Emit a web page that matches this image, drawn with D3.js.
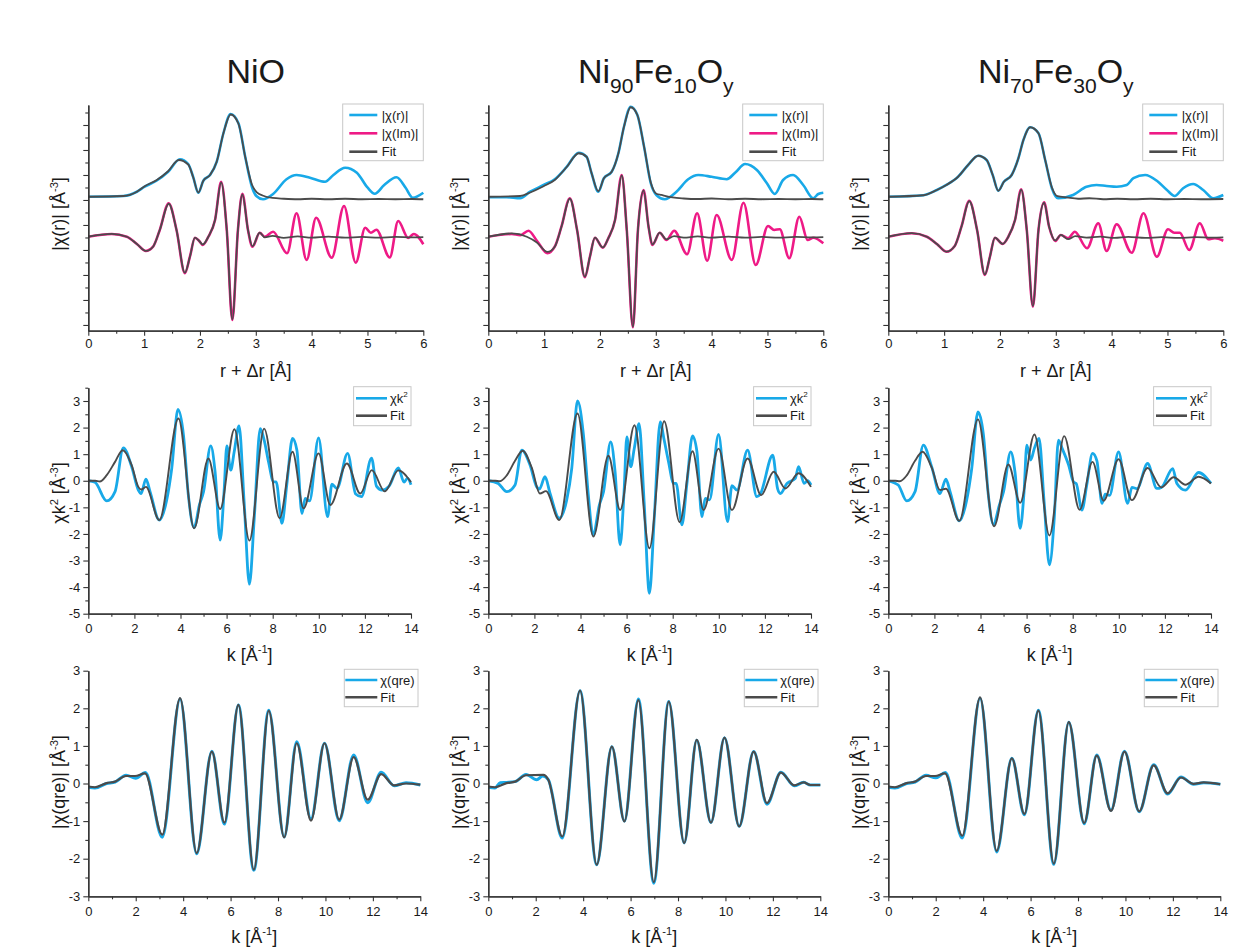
<!DOCTYPE html>
<html>
<head>
<meta charset="utf-8">
<script src="https://cdn.jsdelivr.net/npm/d3@7"></script>
<style>
body { margin: 0; background: #fff; }
text { font-family: "Liberation Sans", Arial, sans-serif; fill: #1a1a1a; }
</style>
</head>
<body>
<div id="plot"></div>
<script>

// ---- tick values ----
var rTicks = [0, 1, 2, 3, 4, 5, 6];
var kTicks = [0, 2, 4, 6, 8, 10, 12, 14];
var chiRTicks = [0, 1, 2, 3, 4, 5, 6, 7, 8];      // unlabeled, offset units
var chiK2Ticks = [-5, -4, -3, -2, -1, 0, 1, 2, 3];
var qreTicks = [-3, -2, -1, 0, 1, 2, 3];

// ---- row 1 : |chi(r)| (upper) and Im (lower), offset units ----
var nioR = [[0,5.13],[0.63,5.16],[0.87,5.33],[1.01,5.53],[1.22,5.77],[1.43,6.13],[1.64,6.63],[1.79,6.44],[1.88,5.91],[1.97,5.29],[2.06,5.77],[2.18,6.0],[2.30,6.53],[2.42,7.67],[2.55,8.44],[2.69,8.07],[2.81,6.73],[2.93,5.53],[3.01,5.16],[3.13,5.03],[3.31,5.24],[3.55,5.83],[3.73,6.0],[3.97,5.89],[4.24,5.73],[4.39,6.0],[4.60,6.29],[4.81,6.09],[5.0,5.5],[5.13,5.25],[5.3,5.6],[5.52,5.91],[5.68,5.5],[5.81,5.09],[6.0,5.29]];
var nioFitR = [[0,5.13],[0.63,5.16],[0.87,5.33],[1.01,5.55],[1.22,5.79],[1.43,6.15],[1.62,6.6],[1.79,6.42],[1.88,5.9],[1.97,5.3],[2.06,5.77],[2.18,6.0],[2.30,6.53],[2.42,7.67],[2.55,8.42],[2.69,8.05],[2.81,6.73],[2.93,5.62],[3.02,5.3],[3.12,5.18],[3.3,5.08],[3.5,5.05],[3.75,5.03],[4.0,5.05],[4.3,5.03],[4.6,5.05],[4.9,5.03],[5.2,5.04],[5.5,5.03],[5.8,5.04],[6.0,5.03]];
var nioIm = [[0,3.53],[0.42,3.64],[0.69,3.53],[0.87,3.24],[1.03,2.96],[1.16,3.13],[1.28,3.8],[1.44,4.87],[1.58,3.8],[1.73,2.07],[1.82,2.73],[1.91,3.49],[1.99,3.35],[2.05,3.2],[2.15,3.53],[2.27,4.2],[2.38,5.73],[2.48,3.8],[2.58,0.2],[2.68,3.8],[2.76,5.25],[2.86,3.8],[2.94,3.13],[3.07,3.69],[3.16,3.53],[3.31,3.73],[3.56,2.87],[3.73,4.47],[3.91,2.6],[4.08,4.29],[4.36,2.69],[4.58,4.76],[4.79,2.49],[4.96,3.89],[5.06,3.69],[5.16,3.81],[5.4,2.7],[5.55,4.16],[5.73,3.48],[5.83,3.64],[6.0,3.23]];
var nioFitIm = [[0,3.53],[0.42,3.64],[0.69,3.53],[0.87,3.24],[1.03,2.96],[1.16,3.13],[1.28,3.8],[1.44,4.85],[1.58,3.8],[1.73,2.09],[1.82,2.73],[1.91,3.49],[1.99,3.35],[2.05,3.22],[2.15,3.53],[2.27,4.2],[2.38,5.7],[2.48,3.8],[2.58,0.22],[2.68,3.8],[2.76,5.22],[2.86,3.8],[2.94,3.15],[3.07,3.69],[3.16,3.5],[3.3,3.56],[3.5,3.48],[3.75,3.54],[4.0,3.49],[4.3,3.53],[4.6,3.49],[4.9,3.52],[5.2,3.49],[5.5,3.52],[5.8,3.5],[6.0,3.51]];

var ni90R = [[0,5.11],[0.33,5.11],[0.57,5.07],[0.75,5.33],[0.99,5.6],[1.19,5.83],[1.40,6.31],[1.62,6.89],[1.76,6.73],[1.85,6.07],[1.97,5.33],[2.07,5.87],[2.21,6.13],[2.33,6.87],[2.43,7.93],[2.55,8.73],[2.67,8.4],[2.79,7.13],[2.91,5.67],[3.01,5.2],[3.16,5.03],[3.37,5.33],[3.58,5.83],[3.76,6.0],[4.0,5.93],[4.27,5.83],[4.42,6.09],[4.6,6.44],[4.81,6.2],[4.99,5.67],[5.13,5.24],[5.28,5.8],[5.46,6.0],[5.64,5.6],[5.82,5.07],[5.91,5.24],[6.0,5.29]];
var ni90FitR = [[0,5.13],[0.57,5.16],[0.75,5.3],[0.99,5.55],[1.19,5.8],[1.40,6.31],[1.62,6.87],[1.76,6.73],[1.85,6.07],[1.97,5.35],[2.07,5.87],[2.21,6.13],[2.33,6.87],[2.43,7.93],[2.55,8.71],[2.67,8.4],[2.79,7.13],[2.91,5.7],[3.01,5.25],[3.1,5.2],[3.3,5.1],[3.5,5.06],[3.75,5.04],[4.0,5.06],[4.3,5.03],[4.6,5.05],[4.9,5.03],[5.2,5.04],[5.5,5.03],[5.8,5.04],[6.0,5.03]];
var ni90Im = [[0,3.53],[0.42,3.64],[0.57,3.59],[0.72,3.77],[0.87,3.37],[1.06,2.87],[1.19,3.13],[1.31,3.93],[1.46,5.07],[1.59,3.8],[1.73,1.91],[1.82,2.73],[1.91,3.49],[2.05,3.09],[2.15,3.47],[2.27,4.2],[2.39,6.0],[2.48,3.8],[2.59,-0.09],[2.68,3.8],[2.78,5.4],[2.87,3.93],[2.94,3.2],[3.07,3.69],[3.19,3.4],[3.33,3.77],[3.56,2.83],[3.74,4.47],[3.92,2.57],[4.09,4.4],[4.36,2.6],[4.57,4.89],[4.79,2.4],[5.01,3.96],[5.12,3.8],[5.22,3.83],[5.39,2.67],[5.57,4.33],[5.72,3.4],[5.82,3.49],[6.0,3.27]];
var ni90FitIm = [[0,3.53],[0.42,3.66],[0.69,3.53],[0.87,3.3],[1.06,2.92],[1.19,3.13],[1.31,3.93],[1.46,5.05],[1.59,3.8],[1.73,1.93],[1.82,2.73],[1.91,3.49],[2.05,3.1],[2.15,3.47],[2.27,4.2],[2.39,5.98],[2.48,3.8],[2.59,-0.07],[2.68,3.8],[2.78,5.38],[2.87,3.93],[2.94,3.22],[3.07,3.69],[3.19,3.42],[3.33,3.55],[3.5,3.49],[3.75,3.54],[4.0,3.49],[4.3,3.53],[4.6,3.49],[4.9,3.52],[5.2,3.49],[5.5,3.52],[5.8,3.5],[6.0,3.51]];

var ni70R = [[0,5.13],[0.63,5.19],[0.87,5.4],[1.04,5.6],[1.25,5.93],[1.43,6.4],[1.61,6.77],[1.76,6.6],[1.87,6.0],[1.97,5.37],[2.07,5.73],[2.21,6.0],[2.33,6.67],[2.42,7.4],[2.54,7.91],[2.69,7.67],[2.81,6.6],[2.93,5.47],[3.04,5.07],[3.31,5.2],[3.55,5.53],[3.73,5.6],[3.91,5.56],[4.09,5.53],[4.27,5.6],[4.39,5.87],[4.6,6.0],[4.81,5.77],[4.99,5.4],[5.13,5.16],[5.28,5.47],[5.46,5.64],[5.64,5.4],[5.82,5.07],[6.0,5.2]];
var ni70FitR = [[0,5.13],[0.63,5.19],[0.87,5.4],[1.04,5.6],[1.25,5.93],[1.43,6.4],[1.61,6.77],[1.76,6.6],[1.87,6.0],[1.97,5.37],[2.07,5.73],[2.21,6.0],[2.33,6.67],[2.42,7.4],[2.54,7.91],[2.69,7.67],[2.81,6.6],[2.93,5.5],[3.03,5.15],[3.2,5.1],[3.4,5.05],[3.6,5.07],[3.85,5.03],[4.1,5.05],[4.4,5.03],[4.7,5.05],[5.0,5.03],[5.3,5.04],[5.6,5.03],[6.0,5.04]];
var ni70Im = [[0,3.53],[0.42,3.67],[0.69,3.53],[0.87,3.24],[1.04,2.93],[1.19,3.16],[1.31,3.93],[1.45,4.97],[1.59,3.8],[1.73,2.0],[1.82,2.73],[1.91,3.49],[2.05,3.24],[2.15,3.53],[2.27,4.2],[2.38,5.43],[2.48,3.8],[2.59,0.73],[2.69,3.8],[2.79,4.91],[2.88,3.93],[2.99,3.36],[3.09,3.6],[3.22,3.47],[3.34,3.73],[3.56,3.07],[3.76,4.07],[3.91,2.96],[4.09,4.03],[4.36,2.89],[4.57,4.47],[4.81,2.73],[5.01,3.83],[5.12,3.69],[5.22,3.69],[5.39,3.0],[5.58,4.07],[5.73,3.43],[5.85,3.47],[6.0,3.37]];
var ni70FitIm = [[0,3.53],[0.42,3.67],[0.69,3.53],[0.87,3.24],[1.04,2.93],[1.19,3.16],[1.31,3.93],[1.45,4.95],[1.59,3.8],[1.73,2.02],[1.82,2.73],[1.91,3.49],[2.05,3.24],[2.15,3.53],[2.27,4.2],[2.38,5.41],[2.48,3.8],[2.59,0.75],[2.69,3.8],[2.79,4.89],[2.88,3.93],[2.99,3.38],[3.09,3.6],[3.22,3.43],[3.35,3.55],[3.55,3.49],[3.8,3.53],[4.05,3.48],[4.3,3.52],[4.6,3.48],[4.9,3.51],[5.2,3.48],[5.5,3.51],[5.8,3.49],[6.0,3.5]];

// ---- row 2 : chi k^2 ----
var nioK = [[0,0],[0.29,-0.06],[0.8,-0.76],[1.16,-0.41],[1.52,1.24],[1.88,0.53],[2.17,-0.35],[2.29,-0.48],[2.5,0.06],[2.68,-0.41],[3.08,-1.48],[3.4,-0.73],[3.62,0.46],[3.89,2.68],[4.13,1.71],[4.34,-0.54],[4.59,-1.76],[4.82,-0.91],[5.0,-0.41],[5.31,1.31],[5.5,0.34],[5.72,-2.23],[5.89,-0.41],[6.01,1.31],[6.18,0.4],[6.33,1.09],[6.54,2.06],[6.76,-0.79],[6.99,-3.89],[7.2,-1.41],[7.46,1.96],[7.63,1.53],[7.82,0.71],[8.04,-0.04],[8.15,-0.04],[8.4,-1.6],[8.61,-0.16],[8.86,1.59],[9.05,1.15],[9.27,-1.23],[9.41,-0.66],[9.6,-0.76],[9.99,1.61],[10.38,-1.35],[10.57,-0.13],[10.79,-0.29],[11.25,1.03],[11.6,-0.5],[11.85,-0.6],[12.29,0.85],[12.5,-0.2],[12.75,-0.35],[13.05,-0.2],[13.45,0.48],[13.7,-0.05],[13.85,0.1],[14.0,-0.15]];
var nioKFit = [[0,0],[0.3,0],[0.5,-0.03],[0.8,0.21],[1.16,0.71],[1.49,1.15],[1.88,0.59],[2.17,-0.23],[2.3,-0.33],[2.5,-0.23],[3.08,-1.48],[3.91,2.34],[4.59,-1.79],[5.21,0.84],[5.72,-1.06],[6.34,1.94],[6.99,-2.25],[7.63,1.96],[8.3,-1.41],[8.86,1.09],[9.34,-1.04],[9.99,1.03],[10.5,-0.91],[11.22,0.65],[11.8,-0.48],[12.3,0.4],[12.86,-0.4],[13.45,0.39],[14.0,-0.05]];
var ni90K = [[0,0],[0.43,-0.1],[0.8,-0.41],[1.16,-0.16],[1.45,1.15],[1.81,0.59],[2.1,-0.23],[2.22,-0.31],[2.46,0.15],[2.68,-0.48],[3.08,-1.41],[3.4,-0.73],[3.62,0.46],[3.87,3.0],[4.13,1.71],[4.34,-0.54],[4.55,-2.04],[4.82,-0.91],[5.0,-0.41],[5.31,1.46],[5.5,0.34],[5.72,-2.41],[5.89,-0.41],[6.01,1.65],[6.18,0.53],[6.33,1.2],[6.54,2.15],[6.76,-0.79],[6.99,-4.23],[7.2,-1.41],[7.46,2.21],[7.63,1.53],[7.82,0.71],[8.04,-0.1],[8.15,-0.1],[8.4,-1.66],[8.61,-0.16],[8.86,1.69],[9.05,1.1],[9.27,-1.35],[9.41,-0.66],[9.6,-0.72],[9.99,1.74],[10.38,-1.54],[10.57,-0.18],[10.79,-0.35],[11.25,1.15],[11.65,-0.6],[11.8,-0.5],[12.34,0.96],[12.55,-0.3],[12.67,-0.48],[12.96,-0.1],[13.32,0.09],[13.46,0.53],[13.7,-0.1],[13.85,0.0],[14.0,-0.16]];
var ni90KFit = [[0,0],[0.3,0],[0.5,-0.02],[0.8,0.2],[1.16,0.75],[1.49,1.13],[1.88,0.5],[2.24,-0.48],[2.5,-0.39],[3.08,-1.48],[3.87,2.53],[4.56,-2.1],[5.21,0.94],[5.72,-1.1],[6.34,2.09],[6.99,-2.54],[7.63,2.24],[8.3,-1.56],[8.86,1.11],[9.34,-1.1],[9.99,1.21],[10.57,-1.1],[11.25,0.84],[11.84,-0.54],[12.38,0.34],[12.89,-0.29],[13.46,0.28],[14.0,-0.23]];
var ni70K = [[0,0],[0.43,-0.16],[0.8,-0.76],[1.16,-0.41],[1.52,1.34],[1.88,0.53],[2.24,-0.48],[2.5,0.06],[2.68,-0.41],[3.08,-1.51],[3.4,-0.73],[3.62,0.46],[3.89,2.59],[4.13,1.71],[4.34,-0.54],[4.56,-1.64],[4.82,-0.91],[5.0,-0.41],[5.31,1.09],[5.5,0.3],[5.72,-1.79],[5.89,-0.41],[6.01,1.34],[6.18,0.78],[6.33,1.2],[6.54,1.59],[6.76,-0.79],[6.99,-3.16],[7.2,-1.41],[7.38,1.53],[7.55,1.2],[7.82,0.6],[8.04,-0.05],[8.15,-0.1],[8.4,-1.1],[8.61,-0.16],[8.86,1.03],[9.05,0.75],[9.27,-0.85],[9.41,-0.5],[9.6,-0.55],[9.99,1.09],[10.38,-0.85],[10.57,-0.25],[10.79,-0.3],[11.25,0.65],[11.65,-0.29],[11.85,-0.25],[12.34,0.46],[12.52,-0.1],[12.89,-0.35],[13.46,0.31],[14.0,-0.1]];
var ni70KFit = [[0,0],[0.3,0],[0.5,-0.02],[0.8,0.2],[1.16,0.75],[1.49,1.09],[1.88,0.5],[2.24,-0.35],[2.5,-0.3],[3.08,-1.51],[3.89,2.31],[4.59,-1.71],[5.21,0.61],[5.72,-0.83],[6.34,1.74],[6.99,-2.06],[7.63,1.68],[8.3,-1.09],[8.86,0.71],[9.34,-0.75],[9.99,0.81],[10.57,-0.73],[11.25,0.48],[11.84,-0.25],[12.38,0.13],[12.89,-0.15],[13.46,0.15],[14.0,-0.1]];

// ---- row 3 : chi(qre) ----
var nioQ = [[0,-0.1],[0.28,-0.12],[0.77,0.0],[1.13,0.04],[1.59,0.22],[2.0,0.14],[2.41,0.29],[3.12,-1.43],[3.87,2.25],[4.57,-1.87],[5.21,0.86],[5.74,-1.08],[6.33,2.09],[6.98,-2.31],[7.61,1.95],[8.26,-1.42],[8.79,1.11],[9.39,-0.94],[9.96,1.07],[10.58,-0.99],[11.19,0.76],[11.78,-0.51],[12.35,0.3],[12.9,-0.06],[13.4,0.02],[14,-0.04]];
var nioQFit = [[0,-0.08],[0.28,-0.1],[0.77,0.01],[1.13,0.05],[1.59,0.2],[1.97,0.2],[2.39,0.27],[3.12,-1.36],[3.87,2.27],[4.57,-1.85],[5.21,0.85],[5.74,-1.04],[6.33,2.09],[6.98,-2.29],[7.61,1.93],[8.26,-1.43],[8.79,1.07],[9.39,-0.99],[9.96,1.07],[10.58,-0.96],[11.19,0.7],[11.78,-0.43],[12.35,0.25],[12.9,-0.05],[13.4,0.0],[14,-0.03]];
var ni90Q = [[0,-0.1],[0.28,-0.12],[0.5,0.02],[0.77,0.03],[1.13,0.05],[1.59,0.24],[2.04,0.1],[2.3,0.2],[2.53,0.1],[3.12,-1.45],[3.87,2.47],[4.57,-2.16],[5.21,0.98],[5.74,-1.0],[6.33,2.25],[6.98,-2.65],[7.61,2.18],[8.26,-1.58],[8.79,1.15],[9.39,-1.04],[9.96,1.22],[10.58,-1.14],[11.19,0.85],[11.75,-0.55],[12.34,0.3],[12.9,-0.06],[13.3,0.03],[13.58,-0.04],[14,-0.04]];
var ni90QFit = [[0,-0.08],[0.28,-0.1],[0.77,0.01],[1.13,0.05],[1.59,0.22],[2.32,0.23],[2.53,0.1],[3.12,-1.41],[3.87,2.47],[4.57,-2.16],[5.21,0.98],[5.74,-1.01],[6.33,2.22],[6.98,-2.62],[7.61,2.18],[8.26,-1.58],[8.79,1.16],[9.39,-1.04],[9.96,1.22],[10.58,-1.14],[11.19,0.85],[11.75,-0.52],[12.34,0.29],[12.9,-0.05],[13.3,0.03],[13.58,-0.04],[14,-0.04]];
var ni70Q = [[0,-0.1],[0.28,-0.12],[0.77,0.0],[1.13,0.04],[1.59,0.22],[2.0,0.15],[2.41,0.29],[3.12,-1.45],[3.87,2.27],[4.57,-1.82],[5.21,0.67],[5.74,-0.83],[6.33,1.95],[6.98,-2.15],[7.61,1.63],[8.26,-1.07],[8.79,0.76],[9.39,-0.71],[9.96,0.86],[10.58,-0.75],[11.19,0.5],[11.78,-0.28],[12.34,0.17],[12.87,-0.02],[13.3,0.02],[14,-0.02]];
var ni70QFit = [[0,-0.08],[0.28,-0.1],[0.77,0.01],[1.13,0.05],[1.59,0.2],[1.97,0.2],[2.39,0.27],[3.12,-1.39],[3.87,2.29],[4.57,-1.79],[5.21,0.67],[5.74,-0.81],[6.33,1.94],[6.98,-2.13],[7.61,1.63],[8.26,-1.05],[8.79,0.74],[9.39,-0.73],[9.96,0.85],[10.58,-0.74],[11.19,0.48],[11.78,-0.26],[12.34,0.16],[12.87,-0.01],[13.3,0.03],[14,-0.02]];

// column titles: [text, "sub"] pieces
var titles = [
	[["NiO"]],
	[["Ni"],["90","sub"],["Fe"],["10","sub"],["O"],["y","sub"]],
	[["Ni"],["70","sub"],["Fe"],["30","sub"],["O"],["y","sub"]]
];

var blue = "#18a9e8", pink = "#ee1a86", grey = "#4b4b4b";

var svg = d3.select("#plot")
	.append("svg")
	.attr("width", 1243)
	.attr("height", 947);

var colX = [88.3, 488.3, 888.3];

// rich text: pieces of [string, "sub"|"sup"]
function rich(t, parts, size) {
	var shift = 0;
	parts.forEach(function(p){
		var target = p[1] == "sub" ? 0.28 * size : (p[1] == "sup" ? -0.42 * size : 0);
		var ts = t.append("tspan").text(p[0]);
		if (p[1]) ts.style("font-size", (size * 0.62) + "px");
		if (target != shift) ts.attr("dy", target - shift);
		shift = target;
	});
}

var rows = [
	{top:105, bot:330.7, w:335, xd:[0,6], yd:[-0.23,8.8], xMaj:rTicks, xMin:d3.range(0.5,6,1),
	 yMaj:chiRTicks, yMin:d3.range(0.5,8.6,1), yLab:false, tickY:348, titleY:377,
	 xTitle:[["r + Δr [Å]"]], yTitle:[["|χ(r)| [Å"],["-3","sup"],["]"]], yTitleY:214,
	 series:[[nioR,nioIm,nioFitR,nioFitIm],[ni90R,ni90Im,ni90FitR,ni90FitIm],[ni70R,ni70Im,ni70FitR,ni70FitIm]],
	 colors:[blue,pink,grey,grey], widths:[2.6,2.6,1.8,1.8],
	 legend:{box:[-80.6,104,80.6,56.7], ys:[115,133.3,151.7], lx:[-74,-46], tx:-41.6,
		items:[[["|χ(r)|"]],[["|χ(Im)|"]],[["Fit"]]], cols:[blue,pink,grey]}},
	{top:387.7, bot:613.7, w:322.7, xd:[0,14], yd:[-5,3.5], xMaj:kTicks, xMin:d3.range(1,14,2),
	 yMaj:chiK2Ticks, yMin:d3.range(-4.5,3.6,1), yLab:true, tickY:633, titleY:661,
	 xTitle:[["k [Å"],["-1","sup"],["]"]], yTitle:[["χk"],["2","sup"],[" [Å"],["-3","sup"],["]"]], yTitleY:493,
	 series:[[nioK,nioKFit],[ni90K,ni90KFit],[ni70K,ni70KFit]],
	 colors:[blue,grey], widths:[2.8,1.9],
	 legend:{box:[-57.4,386.7,57.4,39], ys:[398.3,415.7], lx:[-55,-24], tx:-21,
		items:[[["χk"],["2","sup"]],[["Fit"]]], cols:[blue,grey]}},
	{top:670.7, bot:896.3, w:332, xd:[0,14], yd:[-3,3], xMaj:kTicks, xMin:d3.range(1,14,2),
	 yMaj:qreTicks, yMin:d3.range(-2.5,2.6,1), yLab:true, tickY:916, titleY:943,
	 xTitle:[["k [Å"],["-1","sup"],["]"]], yTitle:[["|χ(qre)| [Å"],["-3","sup"],["]"]], yTitleY:782,
	 series:[[nioQ,nioQFit],[ni90Q,ni90QFit],[ni70Q,ni70QFit]],
	 colors:[blue,grey], widths:[3,2.2],
	 legend:{box:[-76,669.3,73.7,37.4], ys:[680,697.3], lx:[-75,-43], tx:-40,
		items:[[["χ(qre)"]],[["Fit"]]], cols:[blue,grey]}}
];

// column titles
titles.forEach(function(parts, c){
	var t = svg.append("text")
		.attr("x", colX[c] + 167.5)
		.attr("y", 83)
		.attr("text-anchor", "middle")
		.style("font-size", "34px");
	rich(t, parts, 34);
});

var plain = function(d){ return String(d); };   // hyphen minus like the original

rows.forEach(function(row){
	colX.forEach(function(x0, c){
		var x = d3.scaleLinear().domain(row.xd).range([x0, x0 + row.w]);
		var y = d3.scaleLinear().domain(row.yd).range([row.bot, row.top]);
		var g = svg.append("g");

		// curves
		var line = d3.line()
			.x(function(d){ return x(d[0]); })
			.y(function(d){ return y(d[1]); })
			.curve(d3.curveMonotoneX);
		row.series[c].forEach(function(s, i){
			g.append("path")
				.attr("d", line(s))
				.attr("fill", "none")
				.attr("stroke", row.colors[i])
				.attr("stroke-width", row.widths[i])
				.attr("stroke-linejoin", "round");
		});

		// axes
		var xa = g.append("g").attr("transform", "translate(0," + row.bot + ")")
			.call(d3.axisBottom(x).tickValues(row.xMaj).tickSize(5).tickSizeOuter(0).tickPadding(3).tickFormat(plain));
		g.append("g").attr("transform", "translate(0," + row.bot + ")")
			.call(d3.axisBottom(x).tickValues(row.xMin).tickSize(3).tickSizeOuter(0).tickFormat(""));
		g.append("g").attr("transform", "translate(" + x0 + ",0)")
			.call(d3.axisLeft(y).tickValues(row.yMaj).tickSize(5).tickSizeOuter(0).tickPadding(3)
				.tickFormat(row.yLab ? plain : ""));
		g.append("g").attr("transform", "translate(" + x0 + ",0)")
			.call(d3.axisLeft(y).tickValues(row.yMin).tickSize(3).tickSizeOuter(0).tickFormat(""));
		g.selectAll(".domain").attr("stroke", "#333").attr("stroke-width", 1.3);
		g.selectAll(".tick line").attr("stroke", "#333").attr("stroke-width", 1.1);
		g.selectAll(".tick text").style("font-size", "13px").attr("fill", "#222")
			.style("font-family", "'Liberation Sans', Arial, sans-serif");
		xa.selectAll(".tick text").attr("y", null).attr("dy", null)
			.attr("transform", "translate(0," + (row.tickY - row.bot) + ")");

		// axis titles
		var xt = g.append("text")
			.attr("x", x0 + row.w / 2)
			.attr("y", row.titleY)
			.attr("text-anchor", "middle")
			.style("font-size", "18px");
		rich(xt, row.xTitle, 18);
		var yt = g.append("text")
			.attr("transform", "translate(" + (x0 - 23) + "," + row.yTitleY + ") rotate(-90)")
			.attr("text-anchor", "middle")
			.style("font-size", "18px");
		rich(yt, row.yTitle, 18);

		// legend
		var L = row.legend, R = x0 + row.w;
		g.append("rect")
			.attr("x", R + L.box[0]).attr("y", L.box[1])
			.attr("width", L.box[2]).attr("height", L.box[3])
			.attr("fill", "#fff").attr("stroke", "#c8c8c8").attr("stroke-width", 1);
		L.items.forEach(function(it, i){
			g.append("line")
				.attr("x1", R + L.lx[0]).attr("x2", R + L.lx[1])
				.attr("y1", L.ys[i]).attr("y2", L.ys[i])
				.attr("stroke", L.cols[i]).attr("stroke-width", 2.6);
			var lt = g.append("text")
				.attr("x", R + L.tx).attr("y", L.ys[i] + 4.5)
				.style("font-size", "13px");
			rich(lt, it, 13);
		});
	});
});

</script>
</body>
</html>
